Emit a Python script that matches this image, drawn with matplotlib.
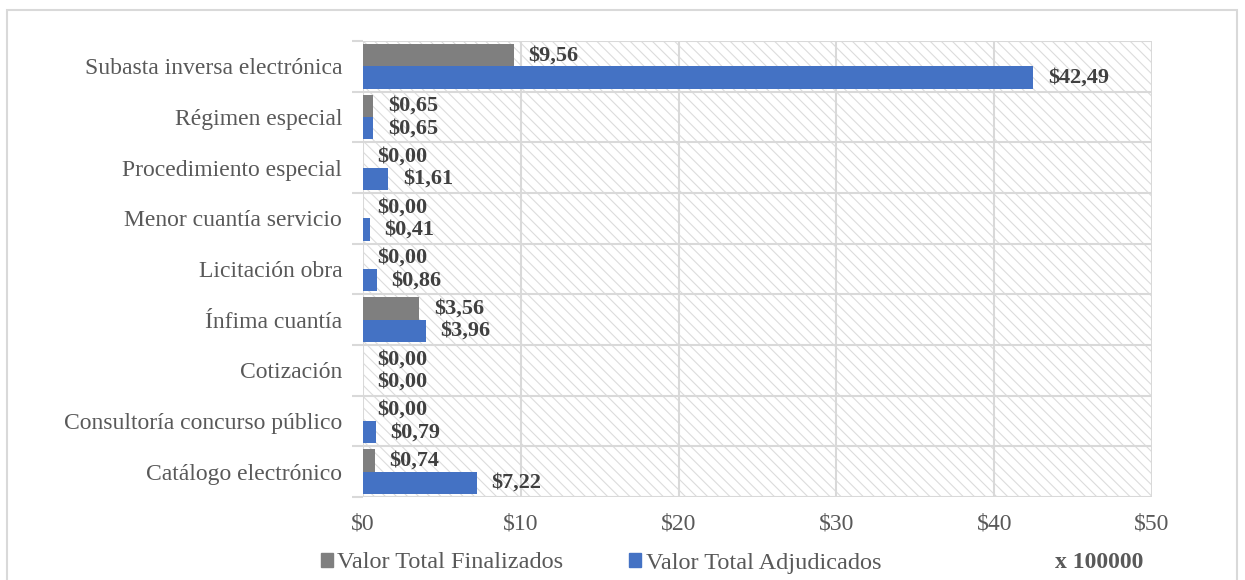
import matplotlib.pyplot as plt
from matplotlib.patches import Rectangle
import numpy as np

# categories from bottom to top (barh draws index 0 at the bottom)
categories = ['Catálogo electrónico', 'Consultoría concurso público', 'Cotización',
              'Ínfima cuantía', 'Licitación obra', 'Menor cuantía servicio',
              'Procedimiento especial', 'Régimen especial', 'Subasta inversa electrónica']
finalizados = [0.74, 0.00, 0.00, 3.56, 0.00, 0.00, 0.00, 0.65, 9.56]
adjudicados = [7.22, 0.79, 0.00, 3.96, 0.86, 0.41, 1.61, 0.65, 42.49]
xticks = [0, 10, 20, 30, 40, 50]

gray = '#7f7f7f'
blue = '#4472c4'
grid_c = '#d9d9d9'
txt_c = '#595959'
lbl_c = '#404040'

plt.rcParams['font.family'] = ['Liberation Serif', 'DejaVu Serif']
plt.rcParams['hatch.linewidth'] = 0.8
plt.rcParams['hatch.color'] = '#dcdcdc'

fig = plt.figure(figsize=(12.45, 5.8), dpi=100)
ax = fig.add_axes([0.2916, 0.1431, 0.9253 - 0.2916, 0.9293 - 0.1431])

# hatched plot area background
ax.add_patch(Rectangle((0, 0), 1, 1, transform=ax.transAxes, fill=False,
                       hatch='\\\\\\', edgecolor='#dcdcdc', lw=0, zorder=0))

y = np.arange(len(categories))
h = 0.44
ax.barh(y + h / 2, finalizados, height=h, color=gray, zorder=3)
ax.barh(y - h / 2, adjudicados, height=h, color=blue, zorder=3)

for yi, v in zip(y + h / 2, finalizados):
    ax.annotate(f'${v:.2f}'.replace('.', ','), (v, yi), xytext=(10.5, 0),
                textcoords='offset points', va='center', ha='left',
                fontsize=16, fontweight='bold', color=lbl_c, zorder=4)
for yi, v in zip(y - h / 2, adjudicados):
    ax.annotate(f'${v:.2f}'.replace('.', ','), (v, yi), xytext=(10.5, 0),
                textcoords='offset points', va='center', ha='left',
                fontsize=16, fontweight='bold', color=lbl_c, zorder=4)

ax.set_xlim(0, 50)
ax.set_ylim(-0.5, len(categories) - 0.5)
ax.set_xticks(xticks)
ax.set_xticklabels([f'${t}' for t in xticks])
ax.set_yticks(y)
ax.set_yticklabels(categories)
ax.set_yticks(np.arange(-0.5, len(categories)), minor=True)
ax.tick_params(axis='y', which='major', length=0, pad=15, labelsize=17, labelcolor=txt_c)
ax.tick_params(axis='y', which='minor', length=8, color=grid_c, width=1.5)
ax.tick_params(axis='x', length=0, pad=12, labelsize=17, labelcolor=txt_c)

ax.grid(axis='x', color=grid_c, lw=1.5, zorder=1)
ax.grid(axis='y', which='minor', color=grid_c, lw=1.5, zorder=1)
for s in ax.spines.values():
    s.set_visible(False)

# legend at the bottom
handles = [Rectangle((0, 0), 1, 1, color=gray), Rectangle((0, 0), 1, 1, color=blue)]
fig.legend(handles, ['Valor Total Finalizados', 'Valor Total Adjudicados'],
           loc='center', bbox_to_anchor=(601 / 1245, 1 - 563 / 580), ncol=2, frameon=False,
           fontsize=17.5, labelcolor=txt_c, handlelength=0.5, handleheight=0.5,
           handletextpad=0.18, columnspacing=2.7)
fig.text(1099 / 1245, 1 - 563 / 580, 'x 100000', ha='center', va='center',
         fontsize=17, fontweight='bold', color=txt_c)

# figure border (bottom edge lies outside the image)
fig.patches.append(Rectangle((7 / 1245, -0.05), 1230 / 1245, 1.05 - 10 / 580,
                             transform=fig.transFigure, fill=False, edgecolor=grid_c, lw=1.5))

fig.savefig('out.png', dpi=100)
